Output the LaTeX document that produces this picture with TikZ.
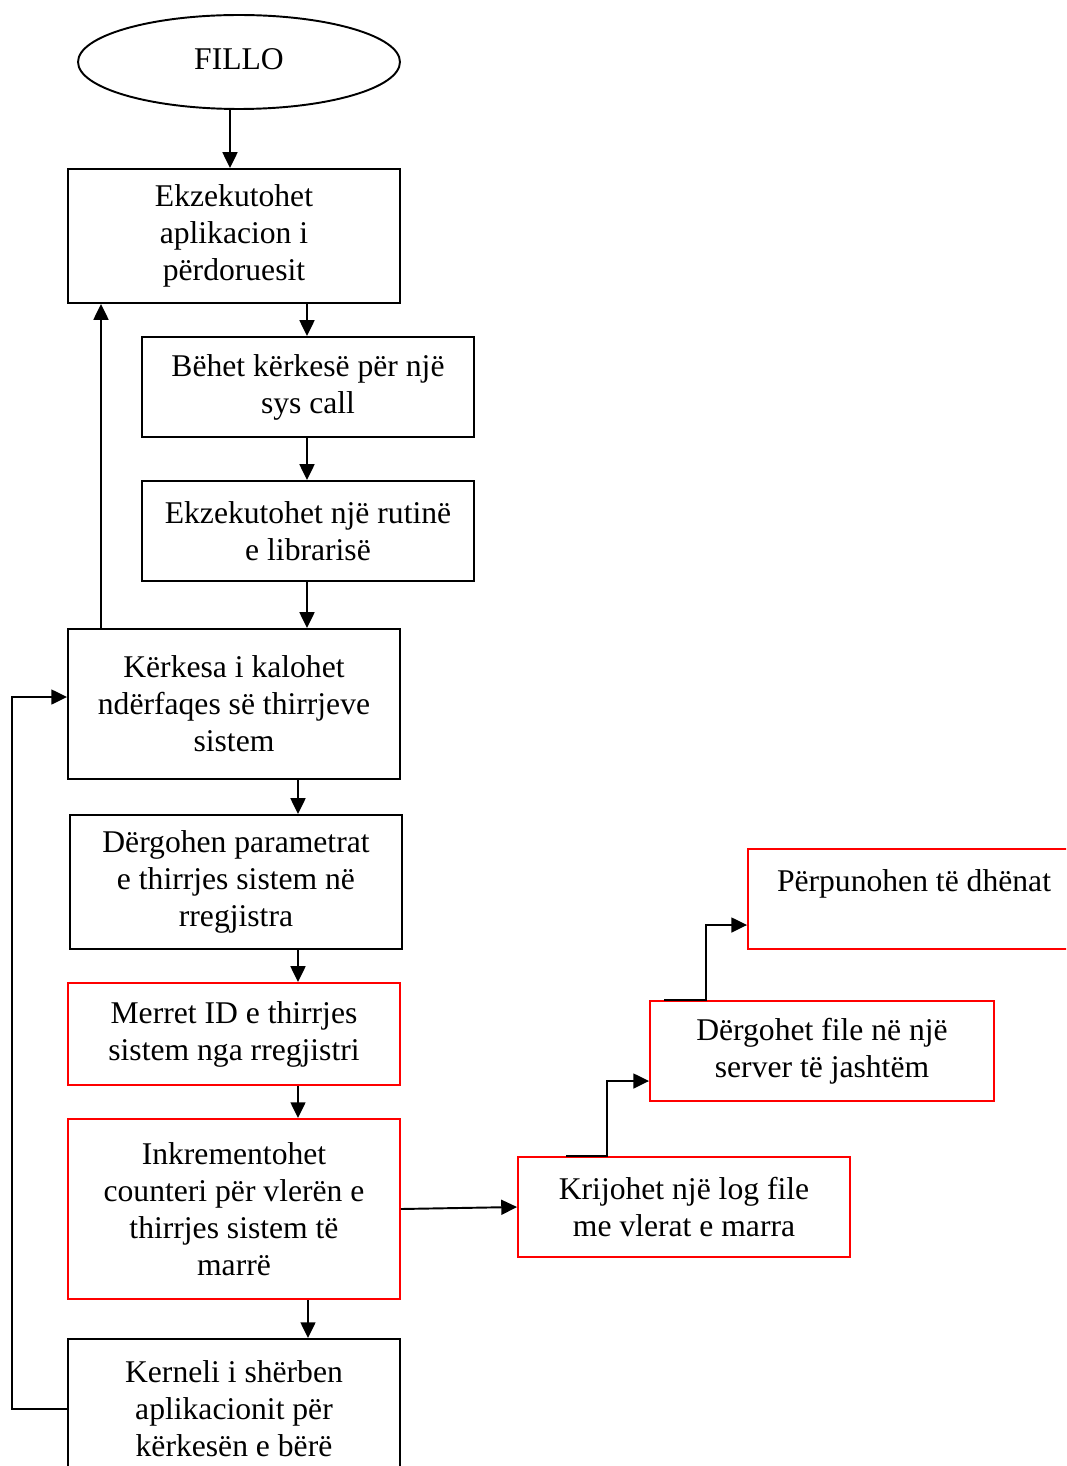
\documentclass[tikz,border=0pt]{standalone}
\usepackage{fontspec}
\setmainfont{Liberation Serif}
\usetikzlibrary{arrows.meta,shapes.geometric}

\begin{document}
\begin{tikzpicture}[x=0.02cm,y=-0.02cm,
    box/.style={draw, line width=1.1pt, align=center, minimum width=6.64cm, inner sep=2pt, font=\fontsize{18}{21}\selectfont},
    redbox/.style={box, draw=red},
    arr/.style={-{Triangle[length=9pt,width=8.5pt]}, line width=1.1pt}]
  \useasboundingbox (0,0) rectangle (1066,1466);
  \clip (0,0) rectangle (1066,1466);
  % main column
  \node[box, ellipse, minimum width=6.44cm, minimum height=1.88cm, inner sep=0pt] (fillo) at (239,62) {\raisebox{3pt}{FILLO}};
  \node[box, minimum height=2.68cm] (aplik) at (234,236) {Ekzekutohet\\aplikacion i\\përdoruesit};
  \node[box, minimum height=2cm] (syscall) at (308,387) {Bëhet kërkesë për një\\sys call};
  \node[box, minimum height=2cm] (rutina) at (308,531) {Ekzekutohet një rutinë\\e librarisë};
  \node[box, minimum height=3cm] (kerkesa) at (234,704) {Kërkesa i kalohet\\ndërfaqes së thirrjeve\\sistem};
  \node[box, minimum height=2.68cm] (param) at (236,882) {Dërgohen parametrat\\e thirrjes sistem në\\rregjistra};
  \node[redbox, minimum height=2.04cm] (merret) at (234,1034) {Merret ID e thirrjes\\sistem nga rregjistri};
  \node[redbox, minimum height=3.6cm] (inkr) at (234,1209) {Inkrementohet\\counteri për vlerën e\\thirrjes sistem të\\marrë};
  \node[box, minimum height=2.8cm] (kerneli) at (234,1409) {Kerneli i shërben\\aplikacionit për\\kërkesën e bërë};
  % right branch
  \node[redbox, minimum height=2cm] (krij) at (684,1207) {Krijohet një log file\\me vlerat e marra};
  \node[redbox, minimum width=6.88cm, minimum height=2cm] (dergf) at (822,1051) {Dërgohet file në një\\server të jashtëm};
  \node[redbox, minimum height=2cm] (perp) at (914,899) {Përpunohen të dhënat\\\mbox{}};
  % helper coordinates
  \coordinate (ax) at (230,0);
  \coordinate (bx) at (307,0);
  \coordinate (cx) at (298,0);
  \coordinate (kx) at (308,0);
  \coordinate (upx) at (101,0);
  \coordinate (loopx) at (12,0);
  \coordinate (lpy) at (0,697);
  \coordinate (s1) at (566,0);
  \coordinate (j1) at (607,1081);
  \coordinate (s2) at (664,0);
  \coordinate (j2) at (706,925);
  % arrows
  \draw[arr] (fillo.south -| ax) -- (aplik.north -| ax);
  \draw[arr] (aplik.south -| bx) -- (syscall.north -| bx);
  \draw[arr] (syscall.south -| bx) -- (rutina.north -| bx);
  \draw[arr] (rutina.south -| bx) -- (kerkesa.north -| bx);
  \draw[arr] (kerkesa.north -| upx) -- (aplik.south -| upx);
  \draw[arr] (kerkesa.south -| cx) -- (param.north -| cx);
  \draw[arr] (param.south -| cx) -- (merret.north -| cx);
  \draw[arr] (merret.south -| cx) -- (inkr.north -| cx);
  \draw[arr] (inkr.south -| kx) -- (kerneli.north -| kx);
  \draw[arr] (kerneli.west) -- (kerneli.west -| loopx) -- (loopx |- lpy) -- (lpy -| kerkesa.west);
  \draw[arr] (inkr.east) -- (krij.west);
  \draw[arr] (krij.north -| s1) -- (krij.north -| j1) -- (j1) -- (j1 -| dergf.west);
  \draw[arr] (dergf.north -| s2) -- (dergf.north -| j2) -- (j2) -- (j2 -| perp.west);
\end{tikzpicture}
\end{document}
